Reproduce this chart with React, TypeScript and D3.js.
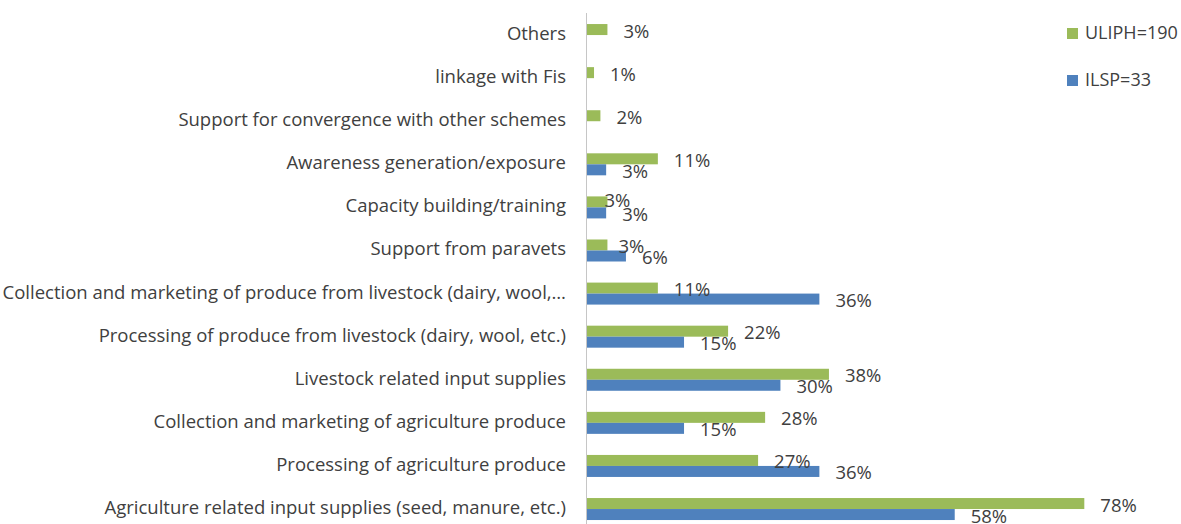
import * as d3 from "d3";

const categories = [
  "Others",
  "linkage with Fis",
  "Support for convergence with other schemes",
  "Awareness generation/exposure",
  "Capacity building/training",
  "Support from paravets",
  "Collection and marketing of produce from livestock (dairy, wool,…",
  "Processing of produce from livestock (dairy, wool, etc.)",
  "Livestock related input supplies",
  "Collection and marketing of agriculture produce",
  "Processing of agriculture produce",
  "Agriculture related input supplies (seed, manure, etc.)",
];

// percent values
const uliph = [3.2, 1.1, 2.1, 11.1, 3.2, 3.2, 11.1, 22.1, 37.9, 27.9, 26.8, 77.9];
const ilsp = [null, null, null, 3.0, 3.0, 6.1, 36.4, 15.2, 30.3, 15.2, 36.4, 57.6];

const seriesNames = ["ULIPH=190", "ILSP=33"];
const colors = ["#9BBB59", "#4F81BD"];

const W = 1181;
const H = 524;
const TEXT = "#404040";
const FONT = "'Open Sans', sans-serif";
const FS = 18.5;

// hand-moved data labels in the original (series-index: [dx, dy])
const labelNudge: Record<string, [number, number]> = {
  "0-4": [-19, -3],
  "0-5": [-5, 0],
};

export default function App() {
  const x = d3.scaleLinear().domain([0, 90]).range([587, 587 + 90 * 6.384]);
  const y = d3
    .scaleBand<string>()
    .domain(categories)
    .range([13.5, 13.5 + 12 * 43.09])
    .padding(0);
  const barH = 11;

  const series = [uliph, ilsp];

  return (
    <svg
      width={W}
      height={H}
      style={{ position: "absolute", left: 0, top: 0, background: "#fff" }}
      fontFamily={FONT}
    >
      {/* bars */}
      {series.map((vals, si) =>
        vals.map((v, i) => {
          if (v == null) return null;
          const c = y(categories[i])! + y.bandwidth() / 2;
          const y0 = si === 0 ? c - barH : c;
          return (
            <rect
              key={`b${si}-${i}`}
              x={x(0)}
              y={y0}
              width={x(v) - x(0)}
              height={barH}
              fill={colors[si]}
            />
          );
        })
      )}

      {/* axis line */}
      <line x1={586.5} x2={586.5} y1={13} y2={H} stroke="#c6c6c6" strokeWidth={1} />

      {/* category labels */}
      {categories.map((cat) => (
        <text
          key={cat}
          x={566}
          y={y(cat)! + y.bandwidth() / 2 - 2.5}
          textAnchor="end"
          dominantBaseline="central"
          fontSize={FS}
          fill={TEXT}
        >
          {cat}
        </text>
      ))}

      {/* value labels */}
      {series.map((vals, si) =>
        vals.map((v, i) => {
          if (v == null) return null;
          const c = y(categories[i])! + y.bandwidth() / 2;
          const yc = si === 0 ? c - barH / 2 : c + barH / 2;
          const [dx, dy] = labelNudge[`${si}-${i}`] ?? [0, 0];
          return (
            <text
              key={`l${si}-${i}`}
              x={x(v) + 16 + dx}
              y={yc + 0.5 + dy}
              dominantBaseline="central"
              fontSize={FS}
              fill={TEXT}
            >
              {`${Math.round(v)}%`}
            </text>
          );
        })
      )}

      {/* legend */}
      {seriesNames.map((name, i) => (
        <g key={name} transform={`translate(1067, ${28 + i * 47})`}>
          <rect width={11} height={11} fill={colors[i]} />
          <text x={18} y={4} dominantBaseline="central" fontSize={FS - 0.5} fill={TEXT}>
            {name}
          </text>
        </g>
      ))}
    </svg>
  );
}
